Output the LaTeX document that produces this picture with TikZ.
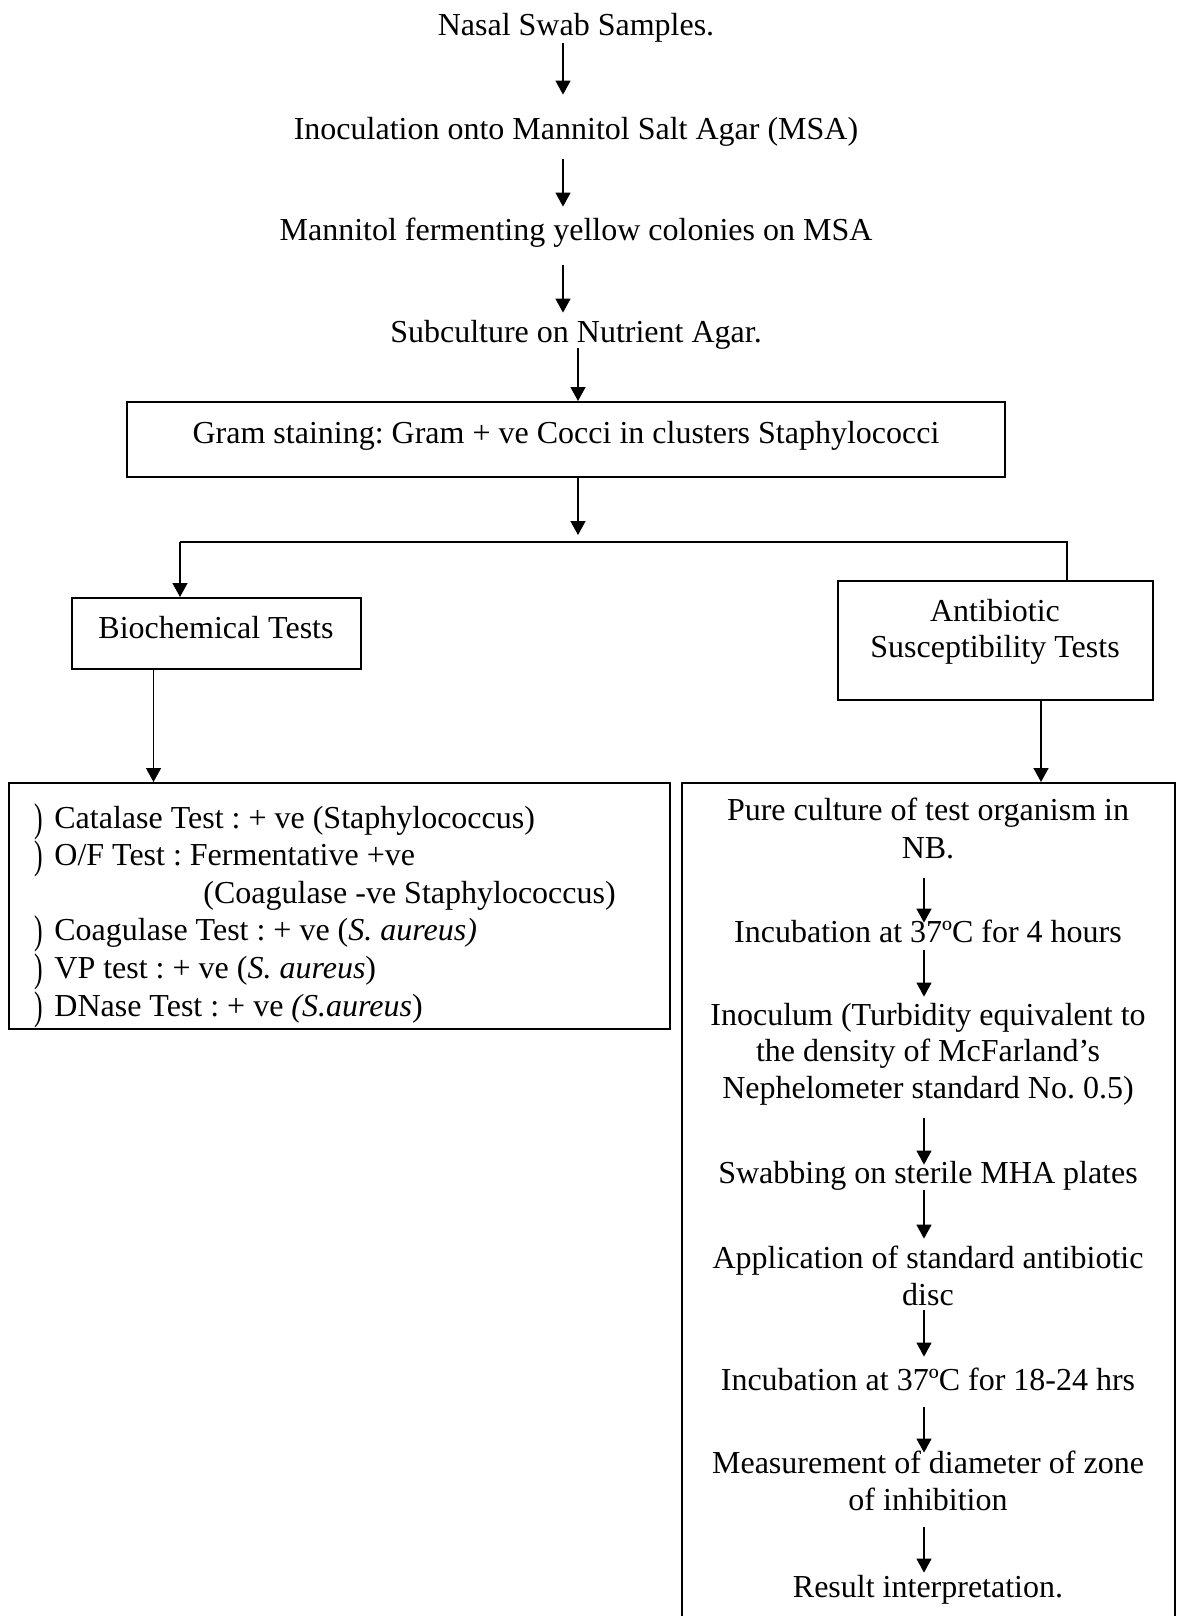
\documentclass[tikz,border=0pt]{standalone}
\usepackage{fontspec}
\usepackage{graphicx}
\setmainfont{Liberation Serif}
\usetikzlibrary{arrows.meta}
\frenchspacing
\newcommand{\wbul}{\raisebox{-1.5pt}{\scalebox{0.8}[1.25]{)}}}
\begin{document}
\begin{tikzpicture}[x=0.5pt,y=-0.5pt,
  txt/.style={inner sep=0pt, text height=11pt, text depth=3.5pt, anchor=base, font=\fontsize{16}{19}\selectfont\frenchspacing},
  ltxt/.style={txt, anchor=base west},
  boxst/.style={draw, line width=1pt, inner sep=0pt},
  arr/.style={line width=0.7pt, -{Triangle[length=7pt,width=7.5pt]}},
  ln/.style={line width=0.7pt},
  bul/.style={inner sep=0pt, anchor=base, font=\fontsize{16}{19}\selectfont}]
\useasboundingbox (0,0) rectangle (1182,1616);
\clip (0,0) rectangle (1182,1616);

% main column
\node[txt] (n1) at (576,36) {Nasal Swab Samples.};
\node[txt] (n2) at (576,140) {Inoculation onto Mannitol Salt Agar (MSA)};
\node[txt] (n3) at (576,240) {Mannitol fermenting yellow colonies on MSA};
\node[txt] (n4) at (576,342) {Subculture on Nutrient Agar.};

\node[boxst, minimum width=439pt, minimum height=37.5pt] (gram) at (566,439.5) {};
\node[txt] (gramtxt) at (566,443) {Gram staining: Gram + ve Cocci in clusters Staphylococci};

\coordinate (ax) at (563,0);
\coordinate (bx) at (578,0);
\draw[arr, shorten <=0pt, shorten >=11.5pt] (n1.south -| ax) -- (n2.north -| ax);
\draw[arr, shorten <=6pt, shorten >=5.5pt] (n2.south -| ax) -- (n3.north -| ax);
\draw[arr, shorten <=9pt, shorten >=3.5pt] (n3.south -| ax) -- (n4.north -| ax);
\draw[arr, shorten <=-0.5pt] (n4.south -| bx) -- (gram.north -| bx);

\coordinate (split) at (578,535);
\draw[arr] (gram.south -| bx) -- (split);

% branch boxes
\node[boxst, minimum width=144.5pt, minimum height=35.5pt] (bio) at (216.5,633.5) {};
\node[txt] (biotxt) at (216,638) {Biochemical Tests};

\node[boxst, minimum width=157.5pt, minimum height=59.5pt] (anti) at (995.5,640.5) {};
\node[txt] (anti1) at (995,621) {Antibiotic};
\node[txt] (anti2) at (995,657) {Susceptibility Tests};

\coordinate (lj) at (180,542);
\coordinate (rj) at (1067,542);
\draw[ln] (anti.north -| rj) -- (rj) -- (lj);
\draw[arr] (lj) -- (bio.north -| lj);

% lower boxes
\node[boxst, minimum width=330.5pt, minimum height=123pt] (bl) at (339.5,906) {};
\node[boxst, minimum width=246.5pt, minimum height=460pt] (br) at (928.5,1243) {};

\coordinate (cx) at (153.5,0);
\coordinate (dx) at (1041,0);
\draw[arr] (bio.south -| cx) -- (bl.north -| cx);
\draw[arr] (anti.south -| dx) -- (br.north -| dx);

% biochemical list
\begin{scope}
\clip (bl.south west) rectangle (bl.north east);
\node[bul] (b1) at (39,828) {\wbul};
\node[ltxt] (l1) at (54,828) {Catalase Test : + ve (Staphylococcus)};
\node[bul] (b2) at (39,865.6) {\wbul};
\node[ltxt] (l2) at (54,865.6) {O/F Test : Fermentative +ve};
\node[ltxt] (l3) at (203,903.2) {(Coagulase -ve Staphylococcus)};
\node[bul] (b4) at (39,940.8) {\wbul};
\node[ltxt] (l4) at (54,940.8) {Coagulase Test : + ve (\textit{S. aureus)}};
\node[bul] (b5) at (39,978.4) {\wbul};
\node[ltxt] (l5) at (54,978.4) {VP test : + ve (\textit{S. aureus})};
\node[bul] (b6) at (39,1016) {\wbul};
\node[ltxt] (l6) at (54,1016) {DNase Test : + ve \textit{(S.aureus})};
\end{scope}

% antibiotic procedure
\node[txt] (r1a) at (928,820) {Pure culture of test organism in};
\node[txt] (r1b) at (928,858) {NB.};
\node[txt] (r2) at (928,942) {Incubation at 37ºC for 4 hours};
\node[txt] (r3a) at (928,1025) {Inoculum (Turbidity equivalent to};
\node[txt] (r3b) at (928,1061.5) {the density of McFarland’s};
\node[txt] (r3c) at (928,1098) {Nephelometer standard No. 0.5)};
\node[txt] (r4) at (928,1183) {Swabbing on sterile MHA plates};
\node[txt] (r5a) at (928,1268) {Application of standard antibiotic};
\node[txt] (r5b) at (928,1305) {disc};
\node[txt] (r6) at (928,1390) {Incubation at 37ºC for 18-24 hrs};
\node[txt] (r7a) at (928,1473) {Measurement of diameter of zone};
\node[txt] (r7b) at (928,1510) {of inhibition};
\node[txt] (r8) at (928,1597) {Result interpretation.};

\coordinate (ex) at (924,0);
\draw[arr, shorten <=6.5pt, shorten >=-1.5pt] (r1b.south -| ex) -- (r2.north -| ex);
\draw[arr, shorten <=0.5pt, shorten >=3pt] (r2.south -| ex) -- (r3a.north -| ex);
\draw[arr, shorten <=6.5pt, shorten >=-2pt] (r3c.south -| ex) -- (r4.north -| ex);
\draw[arr, shorten <=0pt, shorten >=3.5pt] (r4.south -| ex) -- (r5a.north -| ex);
\draw[arr, shorten <=-1pt, shorten >=5.5pt] (r5b.south -| ex) -- (r6.north -| ex);
\draw[arr, shorten <=5pt, shorten >=-1pt] (r6.south -| ex) -- (r7a.north -| ex);
\draw[arr, shorten <=5pt, shorten >=1pt] (r7b.south -| ex) -- (r8.north -| ex);
\end{tikzpicture}
\end{document}
